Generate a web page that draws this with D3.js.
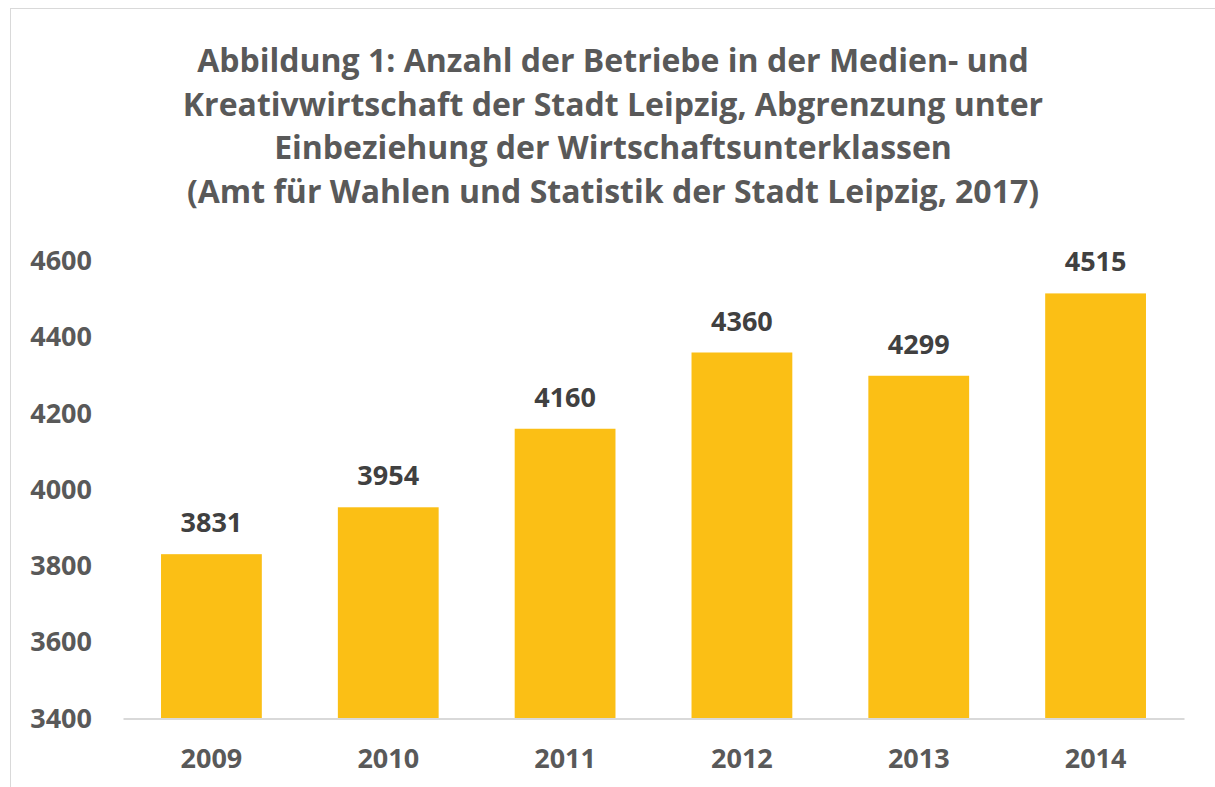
<!DOCTYPE html>
<html>
<head>
<meta charset="utf-8">
<script src="https://cdn.jsdelivr.net/npm/d3@7"></script>
<style>
  body { margin: 0; background: #fff; }
  svg { display: block; font-family: "Open Sans", sans-serif; }
</style>
</head>
<body>
<div id="chart"></div>
<script>
// chart data
const years = ["2009", "2010", "2011", "2012", "2013", "2014"];
const betriebe = [3831, 3954, 4160, 4360, 4299, 4515];
const yTicks = [3400, 3600, 3800, 4000, 4200, 4400, 4600];
const titleLines = [
  "Abbildung 1: Anzahl der Betriebe in der Medien- und",
  "Kreativwirtschaft der Stadt Leipzig, Abgrenzung unter",
  "Einbeziehung der Wirtschaftsunterklassen",
  "(Amt für Wahlen und Statistik der Stadt Leipzig, 2017)"
];

const width = 1215, height = 787;
const margin = {top: 261, right: 31, bottom: 68.5, left: 123};
const labelSize = 27;

const svg = d3.select("#chart").append("svg")
    .attr("width", width)
    .attr("height", height);

// outer frame (only left and top edges visible)
svg.append("rect")
    .attr("x", 10.5).attr("y", 8.5)
    .attr("width", width + 20).attr("height", height + 20)
    .attr("fill", "none")
    .attr("stroke", "#d9d9d9");

// title
svg.append("text")
    .attr("text-anchor", "middle")
    .attr("font-weight", "bold")
    .attr("font-size", 32)
    .attr("fill", "#595959")
  .selectAll("tspan")
  .data(titleLines)
  .join("tspan")
    .attr("x", 613)
    .attr("y", (d, i) => 72 + i * 43.5)
    .text(d => d);

const x = d3.scaleBand()
    .domain(years)
    .range([margin.left, width - margin.right])
    .paddingInner(0.43)
    .paddingOuter(0.215);

const y = d3.scaleLinear()
    .domain([3400, 4600])
    .range([height - margin.bottom, margin.top]);

// bars
svg.append("g")
  .selectAll("rect")
  .data(betriebe)
  .join("rect")
    .attr("x", (d, i) => x(years[i]))
    .attr("y", d => y(d))
    .attr("width", x.bandwidth())
    .attr("height", d => y(3400) - y(d))
    .attr("fill", "#fbbf15");

// value labels
svg.append("g")
  .selectAll("text")
  .data(betriebe)
  .join("text")
    .attr("x", (d, i) => x(years[i]) + x.bandwidth() / 2)
    .attr("y", d => y(d) - 22)
    .attr("text-anchor", "middle")
    .attr("font-weight", "bold")
    .attr("font-size", labelSize)
    .attr("fill", "#404040")
    .text(d => d);

// y axis (labels only)
const yAxis = svg.append("g")
    .attr("transform", `translate(${margin.left},0)`)
    .call(d3.axisLeft(y).tickValues(yTicks).tickSize(0).tickPadding(31).tickFormat(d3.format("d")));
yAxis.select(".domain").remove();
yAxis.selectAll("text")
    .attr("font-family", "Open Sans, sans-serif")
    .attr("font-weight", "bold")
    .attr("font-size", labelSize)
    .attr("fill", "#595959");

// x axis
const xAxis = svg.append("g")
    .attr("transform", `translate(0,${height - margin.bottom})`)
    .call(d3.axisBottom(x).tickSize(0).tickPadding(30));
xAxis.select(".domain")
    .attr("stroke", "#d9d9d9")
    .attr("stroke-width", 2);
xAxis.selectAll("text")
    .attr("font-family", "Open Sans, sans-serif")
    .attr("font-weight", "bold")
    .attr("font-size", labelSize)
    .attr("fill", "#595959");
</script>
</body>
</html>
